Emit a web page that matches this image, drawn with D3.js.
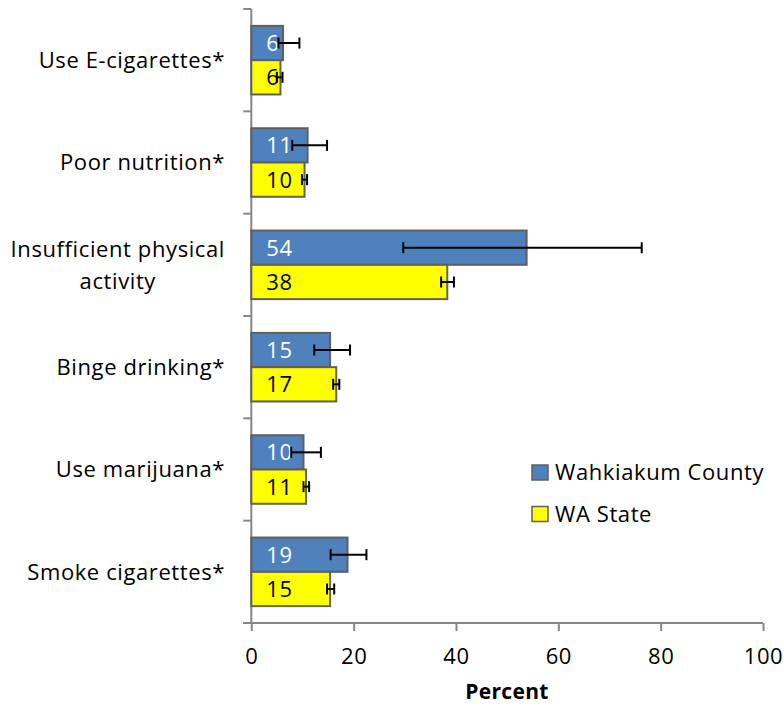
<!DOCTYPE html>
<html><head><meta charset="utf-8">
<script src="https://cdn.jsdelivr.net/npm/d3@7/dist/d3.min.js"></script>
<style>body{margin:0;background:#fff;} svg{display:block;} text{letter-spacing:0.6px;}</style>
</head><body>
<svg id="chart" width="784" height="707"></svg>
<script>
const categories = ["Use E-cigarettes*", "Poor nutrition*", "Insufficient physical activity", "Binge drinking*", "Use marijuana*", "Smoke cigarettes*"];
const categoryLines = [["Use E-cigarettes*"], ["Poor nutrition*"], ["Insufficient physical", "activity"], ["Binge drinking*"], ["Use marijuana*"], ["Smoke cigarettes*"]];
const seriesNames = ["Wahkiakum County", "WA State"];
const countyValues = [6.2, 11.0, 53.8, 15.4, 10.2, 18.8];
const countyLower = [5.3, 8.0, 29.7, 12.3, 7.8, 15.5];
const countyUpper = [9.4, 14.8, 76.3, 19.3, 13.6, 22.5];
const stateValues = [5.7, 10.4, 38.3, 16.6, 10.7, 15.4];
const stateLower = [5.0, 9.9, 37.1, 16.0, 10.2, 14.8];
const stateUpper = [6.1, 10.9, 39.6, 17.2, 11.3, 16.2];
const xTicks = [0, 20, 40, 60, 80, 100];
const colors = ["#4F81BD", "#FFFF00"];
const labelColors = ["#ffffff", "#000000"];

const FONT = "'Open Sans', sans-serif";
const FS = 22;
const svg = d3.select("#chart");
const x = d3.scaleLinear().domain([0, 100]).range([251.3, 763]);
const y = d3.scaleBand().domain(categories).range([9, 623]);
const inner = d3.scaleBand().domain(seriesNames).range([y.bandwidth()*0.165, y.bandwidth()*0.835]);

const rows = [];
categories.forEach((c, i) => {
  rows.push({cat: c, s: seriesNames[0], si: 0, v: countyValues[i], lo: countyLower[i], hi: countyUpper[i]});
  rows.push({cat: c, s: seriesNames[1], si: 1, v: stateValues[i], lo: stateLower[i], hi: stateUpper[i]});
});

// axes
const axisColor = "#868686";
const xAxis = svg.append("g").attr("transform", "translate(0,623)")
  .call(d3.axisBottom(x).tickValues(xTicks).tickSize(8).tickSizeOuter(0).tickPadding(17.4));
xAxis.select(".domain").attr("stroke", axisColor).attr("stroke-width", 2).attr("d", `M243,0H${x(100)}`);
xAxis.selectAll(".tick line").attr("stroke", axisColor).attr("stroke-width", 2);
xAxis.selectAll(".tick text").attr("font-family", FONT).attr("font-size", FS).attr("fill", "#000");

const yAxis = svg.append("g").attr("transform", `translate(${x(0)},0)`);
yAxis.append("line").attr("x1", 0).attr("x2", 0).attr("y1", 9).attr("y2", 623).attr("stroke", axisColor).attr("stroke-width", 2);
const bounds = categories.map(c => y(c)).concat([y.range()[1]]);
yAxis.selectAll("line.tk").data(bounds).join("line").attr("class", "tk")
  .attr("x1", -8).attr("x2", 0).attr("y1", d => d).attr("y2", d => d)
  .attr("stroke", axisColor).attr("stroke-width", 2);

// category labels
const lineH = 32;
categories.forEach((c, i) => {
  const lines = categoryLines[i];
  const cy = y(c) + y.bandwidth()/2;
  const t = svg.append("text").attr("font-family", FONT).attr("font-size", FS).attr("fill", "#000");
  const tsp = lines.map((l, j) => t.append("tspan").text(l)
     .attr("y", cy + (j - (lines.length-1)/2)*lineH).attr("dy", "0.35em"));
  const maxW = d3.max(tsp, s => s.node().getComputedTextLength());
  const right = 225;
  if (lines.length === 1) { t.attr("text-anchor", "end"); tsp.forEach(s => s.attr("x", right)); }
  else { t.attr("text-anchor", "middle"); tsp.forEach(s => s.attr("x", right - maxW/2)); }
});

// bars
svg.append("g").selectAll("rect").data(rows).join("rect")
  .attr("x", x(0)).attr("y", d => y(d.cat) + inner(d.s))
  .attr("width", d => x(d.v) - x(0)).attr("height", inner.bandwidth())
  .attr("fill", d => colors[d.si]).attr("stroke", "#5f5f5f").attr("stroke-width", 2);

// data labels
svg.append("g").selectAll("text").data(rows).join("text")
  .attr("x", x(0) + 15).attr("y", d => y(d.cat) + inner(d.s) + inner.bandwidth()/2).attr("dy", "0.36em")
  .attr("font-family", FONT).attr("font-size", FS).attr("fill", d => labelColors[d.si])
  .text(d => d3.format(".0f")(d.v));

// error bars
const eg = svg.append("g").attr("stroke", "#000").attr("stroke-width", 2);
rows.forEach(d => {
  const cy = y(d.cat) + inner(d.s) + inner.bandwidth()/2;
  eg.append("line").attr("x1", x(d.lo)).attr("x2", x(d.hi)).attr("y1", cy).attr("y2", cy);
  [d.lo, d.hi].forEach(v => eg.append("line").attr("x1", x(v)).attr("x2", x(v)).attr("y1", cy-5.5).attr("y2", cy+5.5));
});

// axis title
svg.append("text").attr("x", 507).attr("y", 699).attr("text-anchor", "middle")
  .attr("font-family", FONT).attr("font-size", 21).attr("font-weight", "bold").style("letter-spacing", "0.3px").text("Percent");

// legend
const lg = svg.append("g");
seriesNames.forEach((n, i) => {
  const ly = 472.5 + i*41.5;
  lg.append("rect").attr("x", 532).attr("y", ly-7.5).attr("width", 16).attr("height", 15)
    .attr("fill", colors[i]).attr("stroke", "#5f5f5f").attr("stroke-width", 1.5);
  lg.append("text").attr("x", 555).attr("y", ly + 7.5)
    .attr("font-family", FONT).attr("font-size", FS).text(n);
});
</script>
</body></html>
